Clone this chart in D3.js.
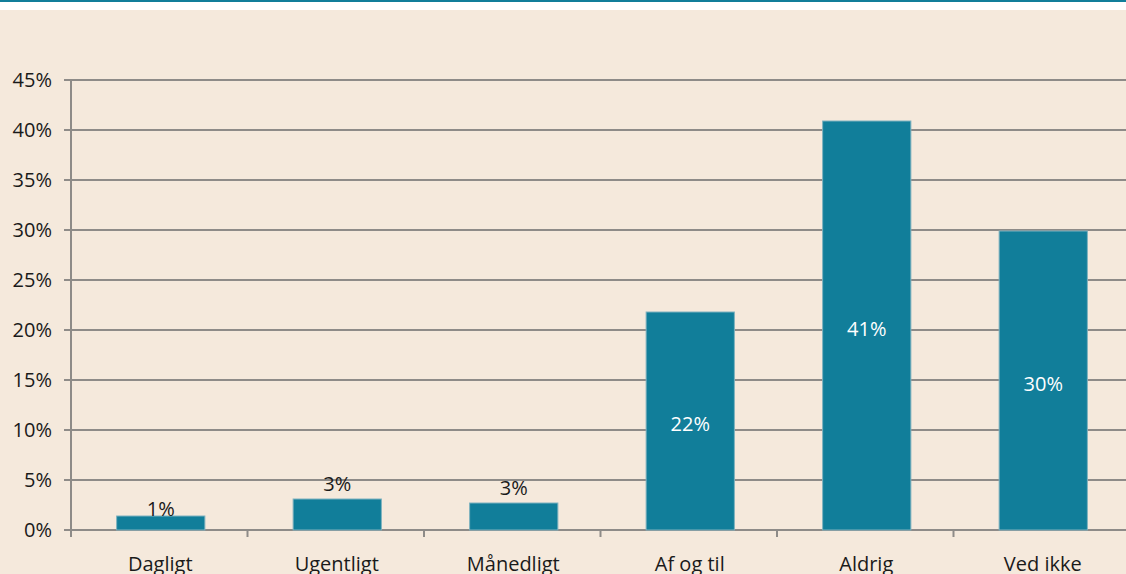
<!DOCTYPE html>
<html><head><meta charset="utf-8">
<script src="https://cdn.jsdelivr.net/npm/d3@7"></script>
<style>html,body{margin:0;padding:0;background:#fff;}svg{display:block;}</style>
</head><body>
<svg id="c" width="1126" height="574"></svg>
<script>
const categories = ["Dagligt","Ugentligt","Månedligt","Af og til","Aldrig","Ved ikke"];
const values = [1.4, 3.1, 2.7, 21.8, 40.9, 29.9];
const labels = ["1%","3%","3%","22%","41%","30%"];
const yTicks = [0,5,10,15,20,25,30,35,40,45];

const svg = d3.select("#c");
const W = 1126, H = 574;
svg.append("rect").attr("x",0).attr("y",0).attr("width",W).attr("height",2).attr("fill","#117E9A");
svg.append("rect").attr("x",0).attr("y",10).attr("width",W).attr("height",H-10).attr("fill","#F5E9DC");

const font = "'Open Sans', 'Noto Sans', sans-serif";
const x = d3.scaleBand().domain(categories).range([72.5, 1131.5]).paddingInner(0.5).paddingOuter(0.25);
const xb = d3.scaleBand().domain(categories).range([71, 1130]);
const y = d3.scaleLinear().domain([0,45]).range([530,80]);

// gridlines
svg.append("g").selectAll("line").data(yTicks).join("line")
  .attr("x1",64).attr("x2",W).attr("y1",d=>y(d)).attr("y2",d=>y(d))
  .attr("stroke","#8E8B88").attr("stroke-width",2);
// y axis line
svg.append("line").attr("x1",71).attr("x2",71).attr("y1",y(45)).attr("y2",y(0)+7)
  .attr("stroke","#8E8B88").attr("stroke-width",2);
// x ticks
svg.append("g").selectAll("line").data(categories.slice(1)).join("line")
  .attr("x1",d=>xb(d)).attr("x2",d=>xb(d)).attr("y1",y(0)).attr("y2",y(0)+7)
  .attr("stroke","#8E8B88").attr("stroke-width",2);
// y labels
svg.append("g").selectAll("text").data(yTicks).join("text")
  .attr("x",52).attr("y",d=>y(d)+7).attr("text-anchor","end")
  .attr("font-family",font).attr("font-size",20).attr("fill","#1a1a1a")
  .text(d=>d+"%");
// bars
svg.append("g").selectAll("rect").data(values).join("rect")
  .attr("x",(d,i)=>x(categories[i])).attr("width",x.bandwidth())
  .attr("y",d=>y(d)).attr("height",d=>y(0)-y(d))
  .attr("fill","#117E9A").attr("stroke","#7FB2BF").attr("stroke-width",1);
// value labels
svg.append("g").selectAll("text").data(values).join("text")
  .attr("x",(d,i)=>x(categories[i])+x.bandwidth()/2)
  .attr("y",d=> d>10 ? (y(d)+y(0))/2 + 10 : y(d) - (d<2 ? 0 : 8))
  .attr("text-anchor","middle")
  .attr("font-family",font).attr("font-size",20)
  .attr("fill",d=> d>10 ? "#ffffff" : "#1a1a1a")
  .text((d,i)=>labels[i]);
// category labels
svg.append("g").selectAll("text").data(categories).join("text")
  .attr("x",d=>xb(d)+xb.bandwidth()/2 + 1).attr("y",571)
  .attr("text-anchor","middle")
  .attr("font-family",font).attr("font-size",20).attr("fill","#1a1a1a")
  .text(d=>d);
</script>
</body></html>
